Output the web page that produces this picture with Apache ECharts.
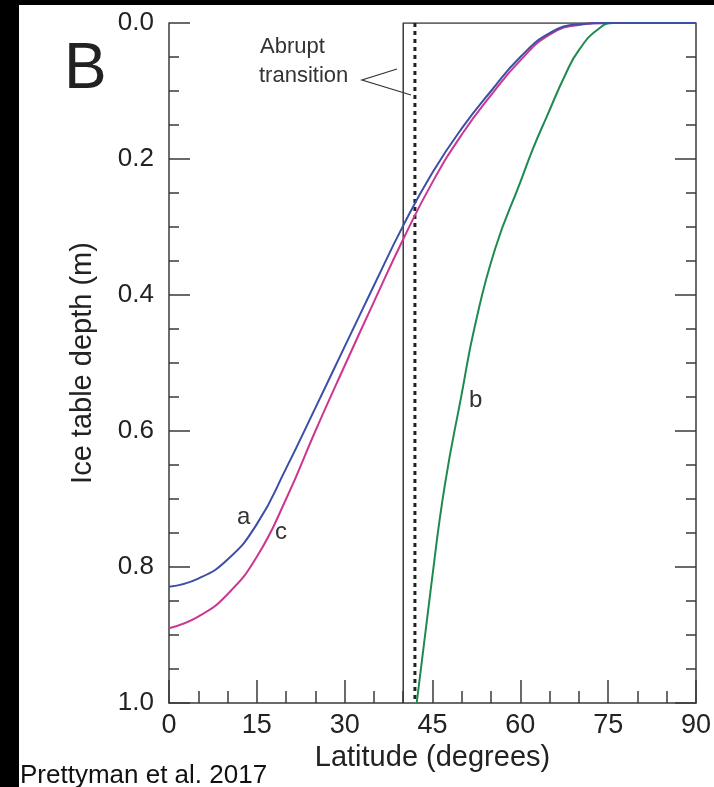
<!DOCTYPE html>
<html>
<head>
<meta charset="utf-8">
<title>Ice table depth vs latitude</title>
<script src="https://cdn.jsdelivr.net/npm/echarts@6/dist/echarts.min.js"></script>
<style>
  html, body { margin: 0; padding: 0; background: #fff; }
  #chart { width: 714px; height: 787px; }
</style>
</head>
<body>
<div id="chart"></div>
<script>
// Model curves: latitude (degrees) and ice table depth (m)
const latA = [0, 5, 10, 15, 20, 25, 30, 35, 40, 45, 50, 55, 60, 65, 70, 75, 90];
const depthA = [0.829, 0.817, 0.789, 0.737, 0.655, 0.566, 0.476, 0.386, 0.298, 0.220, 0.155, 0.100, 0.050, 0.015, 0.002, 0, 0];

const latC = [0, 5, 10, 15, 20, 25, 30, 35, 40, 45, 50, 55, 60, 65, 70, 75, 90];
const depthC = [0.890, 0.873, 0.840, 0.785, 0.700, 0.600, 0.504, 0.410, 0.318, 0.234, 0.164, 0.106, 0.055, 0.017, 0.003, 0, 0];

const latB = [42.3, 44.8, 47.1, 50, 52.2, 55.7, 60, 62.2, 64.5, 67.9, 70, 73, 76, 90];
const depthB = [1.0, 0.826, 0.680, 0.545, 0.447, 0.332, 0.234, 0.184, 0.138, 0.072, 0.040, 0.011, 0, 0];

// Reference lines
const boxLat = [40, 40, 90];
const boxDepth = [1, 0, 0];
const transitionLat = [42, 42];
const transitionDepth = [0, 1];

// Axis settings
const latMin = 0, latMax = 90, latStep = 15;
const depthMin = 0, depthMax = 1, depthStep = 0.2;

const FONT = "'Liberation Sans', Arial, Helvetica, sans-serif";
const AXIS = '#3a3a3a';

const pairs = (xs, ys) => xs.map((x, i) => [x, ys[i]]);

const chart = echarts.init(document.getElementById('chart'), null, { renderer: 'canvas' });

const yAxisBase = {
  type: 'value',
  inverse: true,
  min: depthMin,
  max: depthMax,
  interval: depthStep,
  axisLine: { show: true, lineStyle: { color: AXIS, width: 1.5 } },
  axisTick: { show: true, inside: true, length: 21, lineStyle: { color: AXIS, width: 1.5 } },
  minorTick: { show: true, splitNumber: 4, length: 10, lineStyle: { color: AXIS, width: 1.5 } },
  splitLine: { show: false },
  minorSplitLine: { show: false }
};

chart.setOption({
  animation: false,
  backgroundColor: '#fff',
  grid: { left: 169, right: 18, top: 23, bottom: 84 },
  xAxis: {
    type: 'value',
    min: latMin,
    max: latMax,
    interval: latStep,
    name: 'Latitude (degrees)',
    nameLocation: 'middle',
    nameGap: 38,
    nameTextStyle: { fontFamily: FONT, fontSize: 29, color: '#222' },
    axisLine: { show: true, onZero: false, lineStyle: { color: AXIS, width: 1.5 } },
    axisTick: { show: true, inside: true, length: 23, lineStyle: { color: AXIS, width: 1.5 } },
    minorTick: { show: true, splitNumber: 3, length: 12, lineStyle: { color: AXIS, width: 1.5 } },
    axisLabel: { margin: 9, fontFamily: FONT, fontSize: 27, color: '#222' },
    splitLine: { show: false }
  },
  yAxis: [
    Object.assign({}, yAxisBase, {
      position: 'left',
      name: 'Ice table depth (m)',
      nameLocation: 'middle',
      nameGap: 72,
      nameRotate: 90,
      nameTextStyle: { fontFamily: FONT, fontSize: 29, color: '#222' },
      axisLabel: {
        margin: 15, fontFamily: FONT, fontSize: 26, color: '#222',
        formatter: v => v.toFixed(1)
      }
    }),
    Object.assign({}, yAxisBase, {
      position: 'right',
      axisLabel: { show: false }
    })
  ],
  series: [
    {
      name: 'box', type: 'line', data: pairs(boxLat, boxDepth),
      showSymbol: false, silent: true,
      lineStyle: { color: AXIS, width: 1.5 }, z: 1
    },
    {
      name: 'transition', type: 'line', data: pairs(transitionLat, transitionDepth),
      showSymbol: false, silent: true,
      lineStyle: { color: '#222', width: 3, type: [4, 4] }, z: 2
    },
    {
      name: 'a', type: 'line', data: pairs(latA, depthA),
      showSymbol: false, smooth: 0.5,
      lineStyle: { color: '#3b4fa6', width: 2 }, z: 4
    },
    {
      name: 'c', type: 'line', data: pairs(latC, depthC),
      showSymbol: false, smooth: 0.5,
      lineStyle: { color: '#cc3690', width: 2 }, z: 3
    },
    {
      name: 'b', type: 'line', data: pairs(latB, depthB),
      showSymbol: false, smooth: 0.5,
      lineStyle: { color: '#1e8a50', width: 2 }, z: 3
    }
  ],
  graphic: [
    { type: 'rect', left: 0, top: 0, shape: { width: 19, height: 787 }, style: { fill: '#000' }, z: 100 },
    { type: 'rect', left: 0, top: 0, shape: { width: 714, height: 5 }, style: { fill: '#000' }, z: 100 },
    { type: 'text', x: 64, y: 70, style: { text: 'B', font: '64px ' + FONT, fill: '#222', verticalAlign: 'middle' } },
    { type: 'text', x: 260, y: 47, style: { text: 'Abrupt', font: '22px ' + FONT, fill: '#333', verticalAlign: 'middle' } },
    { type: 'text', x: 259, y: 76, style: { text: 'transition', font: '22px ' + FONT, fill: '#333', verticalAlign: 'middle' } },
    { type: 'polyline', shape: { points: [[397, 69], [362, 80], [411, 95]] }, style: { stroke: '#333', lineWidth: 1.2, fill: null } },
    { type: 'text', x: 237, y: 517, style: { text: 'a', font: '24px ' + FONT, fill: '#333', verticalAlign: 'middle' } },
    { type: 'text', x: 275, y: 532, style: { text: 'c', font: '24px ' + FONT, fill: '#333', verticalAlign: 'middle' } },
    { type: 'text', x: 469, y: 400, style: { text: 'b', font: '24px ' + FONT, fill: '#333', verticalAlign: 'middle' } },
    { type: 'text', x: 20, y: 776, style: { text: 'Prettyman et al. 2017', font: '26px ' + FONT, fill: '#111', verticalAlign: 'middle' } }
  ]
});
</script>
</body>
</html>
